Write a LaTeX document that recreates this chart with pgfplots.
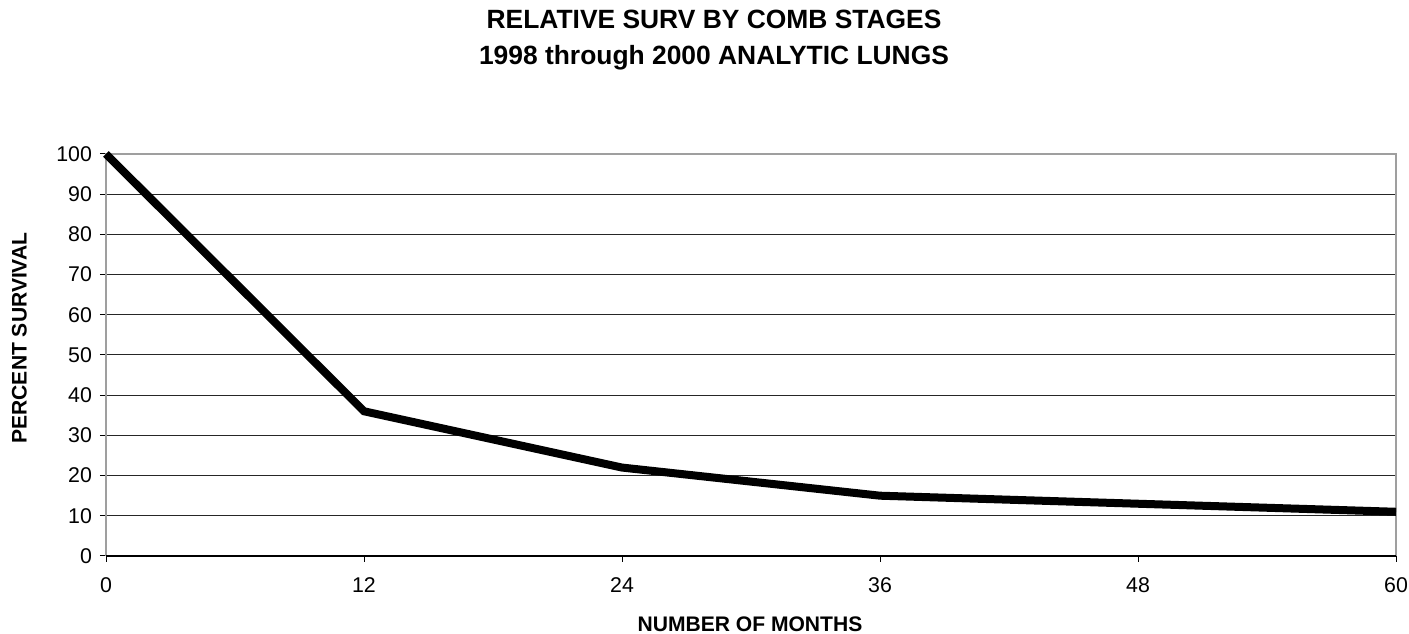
\documentclass[border=0pt]{standalone}
\usepackage{fontspec}
\setmainfont{Liberation Sans}
\usepackage{pgfplots}
\pgfplotsset{compat=1.18}
\begin{document}
\begin{tikzpicture}
\useasboundingbox (0,0) rectangle (1056.75pt,475.5pt);
\begin{axis}[
  at={(79.5pt,58.5pt)}, anchor=south west,
  width=967.5pt, height=301.5pt, scale only axis,
  xmin=0, xmax=60, ymin=0, ymax=100,
  xtick={0,12,24,36,48,60}, ytick={0,10,...,100},
  tick pos=left, tick align=outside,
  major tick length=4.5pt,
  tick style={black, line width=0.75pt},
  ymajorgrids, grid style={black!85, line width=0.75pt},
  axis line style={draw=none},
  ticklabel style={font=\fontsize{16}{18}\selectfont},
  xticklabel style={yshift=-8pt},
  yticklabel style={xshift=-2.5pt},
  /pgf/number format/assume math mode=true,
  clip=false,
]
\draw[gray!75, line width=1.5pt] (rel axis cs:0,0) -- (rel axis cs:0,1) -- (rel axis cs:1,1) -- (rel axis cs:1,0);
\draw[black, line width=0.9pt] (rel axis cs:0,0) -- (rel axis cs:1,0);
\addplot[black, line width=6pt] coordinates {
  (0,100) (12,36) (24,22) (36,15) (48,13) (60,11)
};
\end{axis}
\node[anchor=base, font=\bfseries\fontsize{19.8}{24}\selectfont] at (535.5pt,454pt) {RELATIVE SURV BY COMB STAGES};
\node[anchor=base, font=\bfseries\fontsize{19.8}{24}\selectfont] at (535.5pt,427pt) {1998 through 2000 ANALYTIC LUNGS};
\node[anchor=base, font=\bfseries\fontsize{15.8}{18}\selectfont] at (562.5pt,2pt) {NUMBER OF MONTHS};
\node[anchor=center, rotate=90, font=\bfseries\fontsize{15.8}{18}\selectfont] at (14.5pt,222pt) {PERCENT SURVIVAL};
\end{tikzpicture}
\end{document}
